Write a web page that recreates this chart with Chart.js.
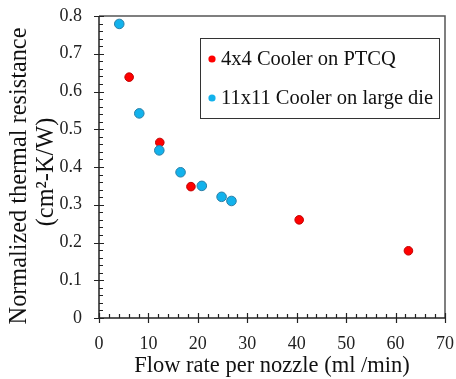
<!DOCTYPE html>
<html>
<head>
<meta charset="utf-8">
<script src="https://cdn.jsdelivr.net/npm/chart.js@4"></script>
<style>
html,body{margin:0;padding:0;background:#fff;}
#wrap{width:456px;height:379px;}
</style>
</head>
<body>
<div id="wrap"><canvas id="c" width="456" height="379"></canvas></div>
<script>
// Data
const flowRed = [6.1, 12.3, 18.6, 40.5, 62.6];
const resRed = [0.638, 0.465, 0.348, 0.260, 0.178];
const flowBlue = [4.1, 8.15, 12.2, 16.5, 20.8, 24.8, 26.8];
const resBlue = [0.779, 0.542, 0.444, 0.386, 0.350, 0.321, 0.310];
const seriesLabels = ["4x4 Cooler on PTCQ", "11x11 Cooler on large die"];
const xTitle = "Flow rate per nozzle (ml /min)";
const yTitle = ["Normalized thermal resistance", "(cm\u00B2-K/W)"];

const SERIF = "'Liberation Serif','Times New Roman',serif";
const redFill = "#FF0000", redEdge = "#C00000";
const blueFill = "#12B2EC", blueEdge = "#2B7FA6";

const decor = {
  id: 'decor',
  afterDraw(chart) {
    const ctx = chart.ctx;
    const xs = chart.scales.x, ys = chart.scales.y;
    const {left, right, top, bottom} = chart.chartArea;
    ctx.save();
    // frame
    ctx.strokeStyle = '#555'; ctx.lineWidth = 1.5;
    ctx.beginPath();
    ctx.moveTo(left, top); ctx.lineTo(right, top); ctx.lineTo(right, bottom);
    ctx.stroke();
    ctx.strokeStyle = '#222';
    ctx.beginPath();
    ctx.moveTo(left, top); ctx.lineTo(left, bottom); ctx.lineTo(right, bottom);
    ctx.stroke();
    // ticks
    ctx.lineWidth = 1.2;
    ctx.beginPath();
    for (let i = 0; i <= 35; i++) {
      const v = i * 2, px = Math.round(xs.getPixelForValue(v)) + 0.5;
      if (i % 5 === 0) { ctx.moveTo(px, bottom + 5); ctx.lineTo(px, bottom - 5); }
      else { ctx.moveTo(px, bottom); ctx.lineTo(px, bottom - 4); }
    }
    for (let i = 0; i <= 40; i++) {
      const v = i * 0.02, py = Math.round(ys.getPixelForValue(v)) + 0.5;
      if (i % 5 === 0) { ctx.moveTo(left - 5, py); ctx.lineTo(left + 5, py); }
      else { ctx.moveTo(left, py); ctx.lineTo(left + 4, py); }
    }
    ctx.stroke();
    // legend
    ctx.lineWidth = 1; ctx.strokeStyle = '#333';
    ctx.strokeRect(200.5, 38.5, 239, 80);
    const ds = chart.data.datasets;
    const rows = [59, 98];
    ctx.font = "20.5px " + SERIF; ctx.fillStyle = '#111';
    ctx.textAlign = 'left'; ctx.textBaseline = 'middle';
    ds.forEach((d, i) => {
      ctx.beginPath(); ctx.arc(212, rows[i], 3.6, 0, Math.PI * 2);
      ctx.fillStyle = d.backgroundColor; ctx.fill();
      ctx.fillStyle = '#111';
      ctx.fillText(d.label, 221, rows[i] + 1);
    });
    // axis titles
    ctx.font = "22.5px " + SERIF; ctx.textAlign = 'center';
    ctx.fillText(xTitle, 272, 366);
    ctx.save();
    ctx.translate(20, 176); ctx.rotate(-Math.PI / 2);
    ctx.font = "24.3px " + SERIF;
    ctx.fillText(yTitle[0], 0, 0);
    ctx.restore();
    ctx.save();
    ctx.translate(47, 172); ctx.rotate(-Math.PI / 2);
    ctx.font = "24.3px " + SERIF;
    ctx.fillText(yTitle[1], 0, 0);
    ctx.restore();
    ctx.restore();
  }
};

function noPad(s) { s.paddingTop = 0; s.paddingBottom = 0; s.paddingLeft = 0; s.paddingRight = 0; }

new Chart(document.getElementById('c'), {
  type: 'scatter',
  data: {
    datasets: [
      {
        label: seriesLabels[0],
        data: flowRed.map((x, i) => ({x, y: resRed[i]})),
        backgroundColor: redFill, borderColor: redEdge, borderWidth: 1,
        pointRadius: 4.3, pointHoverRadius: 4.3, order: 1
      },
      {
        label: seriesLabels[1],
        data: flowBlue.map((x, i) => ({x, y: resBlue[i]})),
        backgroundColor: blueFill, borderColor: blueEdge, borderWidth: 1,
        pointRadius: 4.8, pointHoverRadius: 4.8, order: 0
      }
    ]
  },
  options: {
    responsive: false, animation: false,
    layout: {padding: {top: 16, right: 11, left: 0, bottom: 0}},
    plugins: {legend: {display: false}, tooltip: {enabled: false}},
    scales: {
      x: {
        type: 'linear', min: 0, max: 70,
        grid: {display: false, drawTicks: false}, border: {display: false},
        ticks: {stepSize: 10, padding: 15, color: '#222', font: {family: SERIF, size: 18}},
        afterFit(s) { s.height = 61; noPad(s); }
      },
      y: {
        type: 'linear', min: 0, max: 0.8,
        grid: {display: false, drawTicks: false}, border: {display: false},
        ticks: {stepSize: 0.1, padding: 17, color: '#222', font: {family: SERIF, size: 18}},
        afterFit(s) { s.width = 99; noPad(s); }
      }
    }
  },
  plugins: [decor]
});
</script>
</body>
</html>
